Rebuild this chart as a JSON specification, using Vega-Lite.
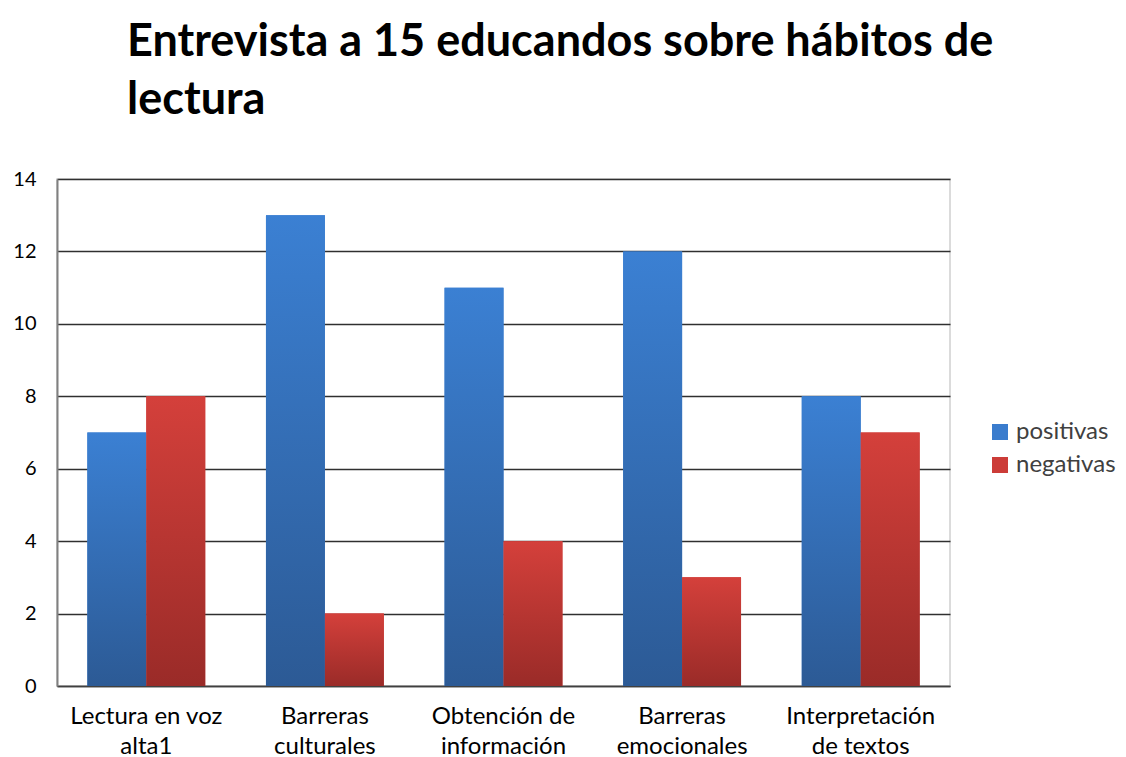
{
  "$schema": "https://vega.github.io/schema/vega-lite/v6.json",
  "width": 893,
  "height": 507,
  "autosize": {"type": "none"},
  "padding": {"left": 57, "top": 179, "right": 176, "bottom": 71},
  "background": "white",
  "title": {
    "text": ["Entrevista a 15 educandos sobre hábitos de", "lectura"],
    "anchor": "start",
    "frame": "group",
    "dx": 70,
    "font": "Lato",
    "fontSize": 45,
    "fontWeight": "bold",
    "color": "#000000",
    "lineHeight": 58,
    "offset": 46
  },
  "config": {
    "view": {"stroke": "#d0d0d0", "strokeWidth": 1.5},
    "font": "Lato"
  },
  "data": {
    "values": [
      {"categoria": "Lectura en voz alta1", "serie": "positivas", "valor": 7},
      {"categoria": "Lectura en voz alta1", "serie": "negativas", "valor": 8},
      {"categoria": "Barreras culturales", "serie": "positivas", "valor": 13},
      {"categoria": "Barreras culturales", "serie": "negativas", "valor": 2},
      {"categoria": "Obtención de información", "serie": "positivas", "valor": 11},
      {"categoria": "Obtención de información", "serie": "negativas", "valor": 4},
      {"categoria": "Barreras emocionales", "serie": "positivas", "valor": 12},
      {"categoria": "Barreras emocionales", "serie": "negativas", "valor": 3},
      {"categoria": "Interpretación de textos", "serie": "positivas", "valor": 8},
      {"categoria": "Interpretación de textos", "serie": "negativas", "valor": 7}
    ]
  },
  "encoding": {
    "x": {
      "field": "categoria",
      "type": "nominal",
      "sort": null,
      "scale": {"paddingInner": 0.34, "paddingOuter": 0.17},
      "axis": {
        "title": null,
        "labelAngle": 0,
        "labelFont": "Lato",
        "labelFontSize": 24,
        "labelColor": "#000000",
        "labelPadding": 18,
        "labelLineHeight": 30,
        "labelBaseline": "top",
        "ticks": false,
        "grid": false,
        "domain": true,
        "domainColor": "#404040",
        "domainWidth": 1.5,
        "labelExpr": "datum.label == 'Lectura en voz alta1' ? ['Lectura en voz', 'alta1'] : datum.label == 'Barreras culturales' ? ['Barreras', 'culturales'] : datum.label == 'Obtención de información' ? ['Obtención de', 'información'] : datum.label == 'Barreras emocionales' ? ['Barreras', 'emocionales'] : ['Interpretación', 'de textos']"
      }
    },
    "xOffset": {
      "field": "serie",
      "type": "nominal",
      "sort": ["positivas", "negativas"],
      "scale": {"paddingInner": 0, "paddingOuter": 0}
    },
    "y": {
      "field": "valor",
      "type": "quantitative",
      "scale": {"domain": [0, 14], "nice": false},
      "axis": {
        "title": null,
        "values": [0, 2, 4, 6, 8, 10, 12, 14],
        "labelFont": "Lato",
        "labelFontSize": 20,
        "labelColor": "#000000",
        "labelPadding": 21,
        "ticks": false,
        "grid": true,
        "gridColor": "#303030",
        "gridWidth": 1.5,
        "domain": true,
        "domainColor": "#808080",
        "domainWidth": 2
      }
    }
  },
  "layer": [
    {
      "mark": {"type": "bar"},
      "encoding": {
        "color": {
          "field": "serie",
          "type": "nominal",
          "scale": {"domain": ["positivas", "negativas"], "range": ["#3a7ccd", "#cc3c38"]},
          "legend": {
            "title": null,
            "orient": "none",
            "legendX": 931,
            "legendY": 241,
            "symbolType": "square",
            "symbolSize": 256,
            "symbolStrokeWidth": 0,
            "labelFont": "Lato",
            "labelFontSize": 24,
            "labelColor": "#404040",
            "labelOffset": 4,
            "rowPadding": 9
          }
        }
      }
    },
    {
      "mark": {"type": "bar"},
      "encoding": {
        "fill": {
          "condition": {
            "test": "datum.serie === 'positivas'",
            "value": {
              "gradient": "linear",
              "x1": 0, "y1": 0, "x2": 0, "y2": 1,
              "stops": [
                {"offset": 0, "color": "#3b80d3"},
                {"offset": 1, "color": "#2c5a95"}
              ]
            }
          },
          "value": {
            "gradient": "linear",
            "x1": 0, "y1": 0, "x2": 0, "y2": 1,
            "stops": [
              {"offset": 0, "color": "#d4403b"},
              {"offset": 1, "color": "#9a2b28"}
            ]
          }
        }
      }
    }
  ]
}
